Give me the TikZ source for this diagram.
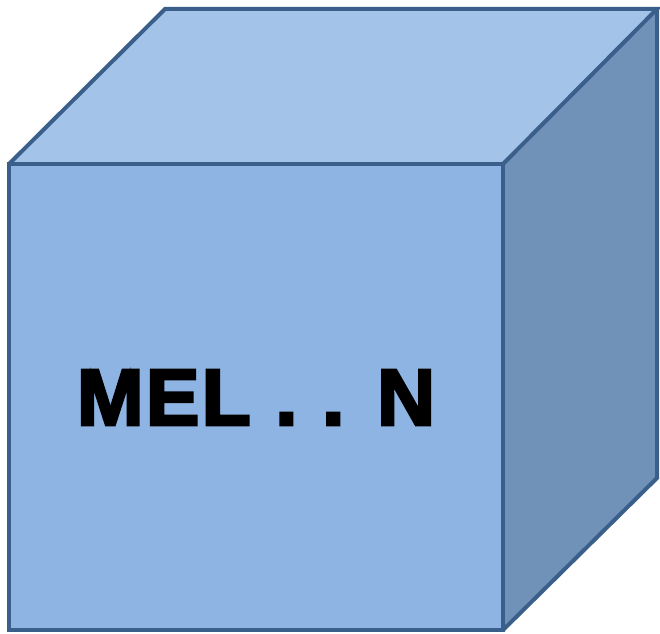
\documentclass[tikz,border=0pt]{standalone}
\usepackage{fontspec}
\newfontfamily\blackfont[FakeBold=3.5,LetterSpace=3]{Liberation Sans Bold}
\definecolor{frontc}{HTML}{8EB4E3}
\definecolor{topc}{HTML}{A4C3E9}
\definecolor{sidec}{HTML}{7092B8}
\definecolor{edgec}{HTML}{3A5F8B}
\begin{document}
\begin{tikzpicture}[x=1pt,y=1pt,
  face/.style={draw=edgec,line width=4pt,line join=miter}]
\useasboundingbox (0,0) rectangle (660,633);
\coordinate (fbl) at (9,3);
\coordinate (fbr) at (503,3);
\coordinate (ftl) at (9,469);
\coordinate (ftr) at (503,469);
\coordinate (btl) at (165,624);
\coordinate (btr) at (657,624);
\coordinate (bbr) at (657,155);
\fill[frontc] (fbl) -- (fbr) -- (ftr) -- (ftl) -- cycle;
\fill[topc] (ftl) -- (btl) -- (btr) -- (ftr) -- cycle;
\fill[sidec] (ftr) -- (btr) -- (bbr) -- (fbr) -- cycle;
\draw[face] (fbl) -- (fbr) -- (ftr) -- (ftl) -- cycle;
\draw[face] (ftl) -- (btl) -- (btr) -- (ftr);
\draw[face] (btr) -- (bbr) -- (fbr);
\node[inner sep=0pt,font=\blackfont\fontsize{80}{80}\selectfont,anchor=base] (lbl) at (256,208) {MEL . . N};
\end{tikzpicture}
\end{document}
